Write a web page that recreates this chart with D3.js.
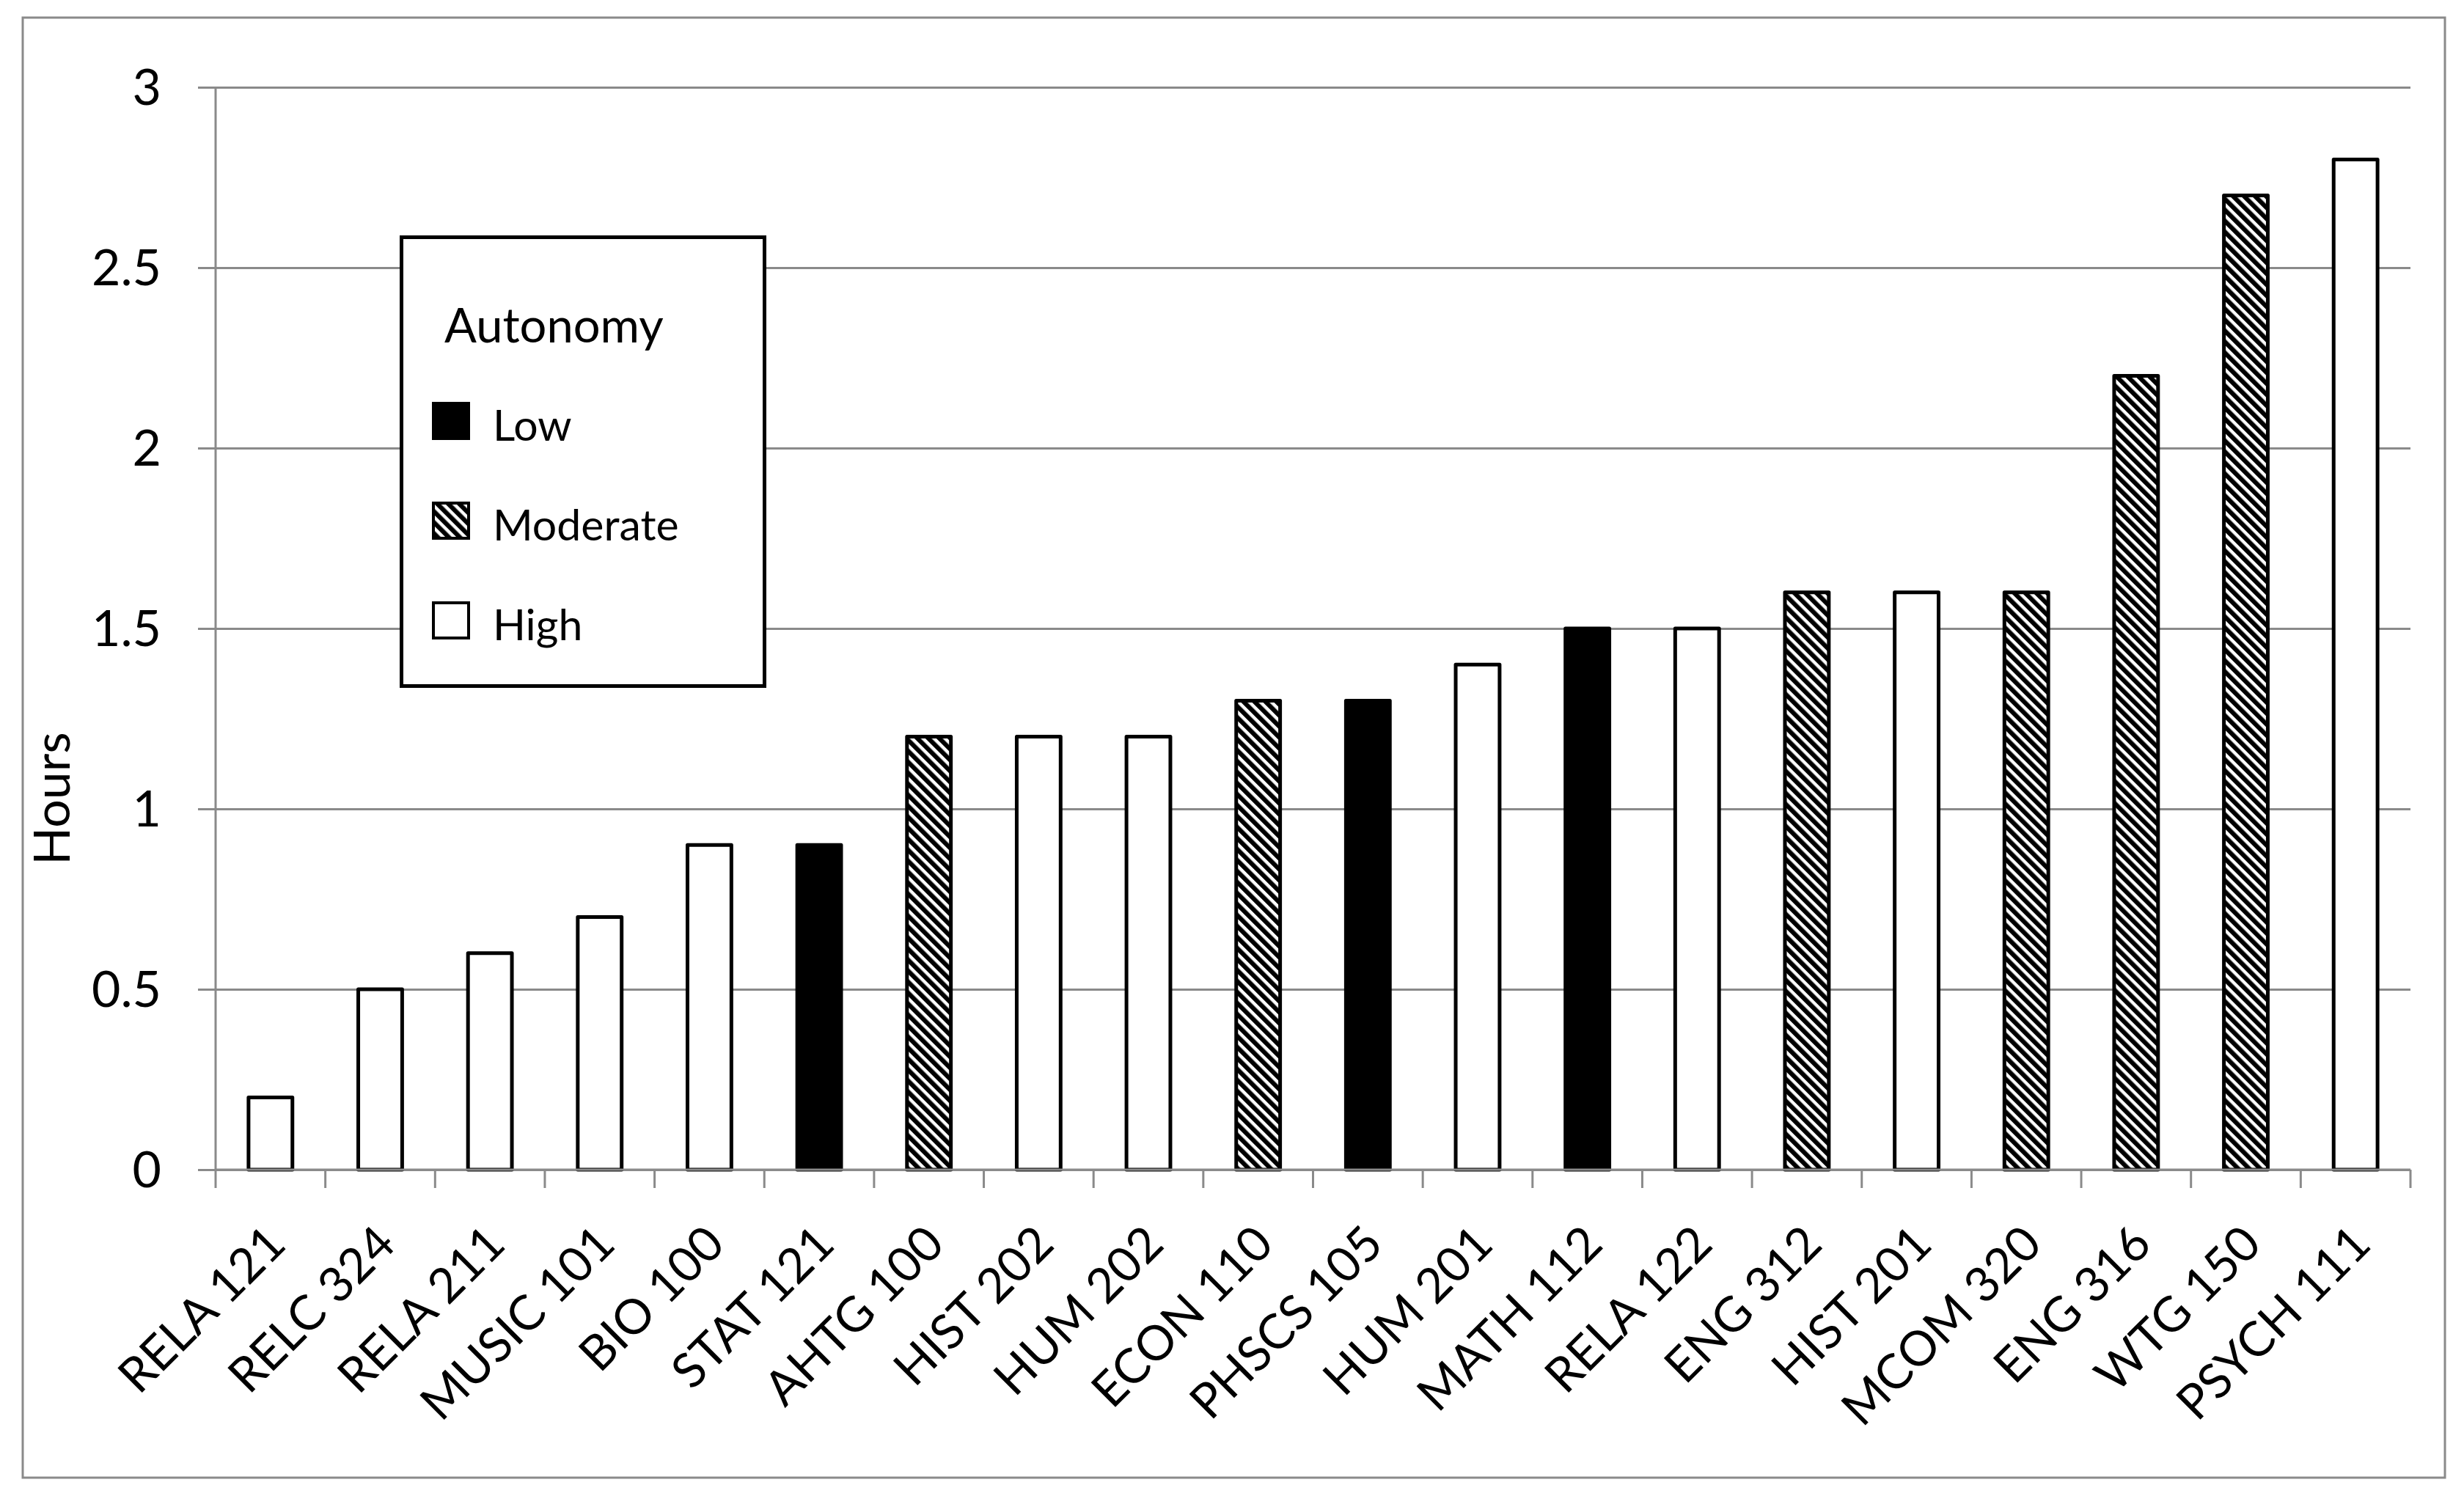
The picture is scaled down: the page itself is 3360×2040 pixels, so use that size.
<!DOCTYPE html>
<html>
<head>
<meta charset="utf-8">
<script src="https://cdnjs.cloudflare.com/ajax/libs/d3/7.8.5/d3.min.js"></script>
<style>
  body { margin: 0; background: #fff; }
  text { font-family: Lato, "Open Sans", sans-serif; fill: #000; }
</style>
</head>
<body>
<div id="main"></div>
<script>
var courses = ["RELA 121", "RELC 324", "RELA 211", "MUSIC 101", "BIO 100", "STAT 121", "AHTG 100",
    "HIST 202", "HUM 202", "ECON 110", "PHSCS 105", "HUM 201", "MATH 112", "RELA 122", "ENG 312",
    "HIST 201", "MCOM 320", "ENG 316", "WTG 150", "PSYCH 111"];
var hours = [0.2, 0.5, 0.6, 0.7, 0.9, 0.9, 1.2, 1.2, 1.2, 1.3, 1.3, 1.4, 1.5, 1.5, 1.6, 1.6, 1.6, 2.2, 2.7, 2.8];
var autonomy = ["High", "High", "High", "High", "High", "Low", "Moderate", "High", "High", "Moderate",
    "Low", "High", "Low", "High", "Moderate", "High", "Moderate", "Moderate", "Moderate", "High"];
var levels = ["Low", "Moderate", "High"];
var yTicks = [0, 0.5, 1, 1.5, 2, 2.5, 3];

var width = 3360,
    height = 2040;
var plotLeft = 294, plotRight = 3287, plotTop = 119, plotBottom = 1595;
var gridColor = "#8a8a8a";

var svg = d3.select("#main").append("svg")
    .attr("width", width)
    .attr("height", height);

// diagonal hatch used for "Moderate"
var defs = svg.append("defs");
var hatch = defs.append("pattern")
    .attr("id", "hatch")
    .attr("patternUnits", "userSpaceOnUse")
    .attr("width", 10.6)
    .attr("height", 10.6)
    .attr("patternTransform", "rotate(-45)");
hatch.append("rect").attr("width", 10.6).attr("height", 10.6).attr("fill", "#fff");
hatch.append("rect").attr("width", 6.2).attr("height", 10.6).attr("fill", "#000");

var fill = d3.scaleOrdinal().domain(levels).range(["#000", "url(#hatch)", "#fff"]);

// outer chart border
svg.append("rect")
    .attr("x", 31).attr("y", 24)
    .attr("width", 3303).attr("height", 1991)
    .attr("fill", "none")
    .attr("stroke", gridColor)
    .attr("stroke-width", 3);

var x = d3.scaleBand().domain(courses).range([plotLeft, plotRight]).paddingInner(0.6).paddingOuter(0.3);
var y = d3.scaleLinear().domain([0, 3]).range([plotBottom, plotTop]);

// gridlines with the outward tick on the left
var yAxis = svg.append("g")
    .attr("transform", "translate(" + plotLeft + ",0)")
    .call(d3.axisLeft(y).tickValues(yTicks).tickSize(-(plotRight - plotLeft)).tickFormat(""));
yAxis.select(".domain").remove();
yAxis.selectAll(".tick line")
    .attr("x1", -24)
    .attr("stroke", gridColor)
    .attr("stroke-width", 3);

svg.append("line")
    .attr("x1", plotLeft).attr("x2", plotLeft)
    .attr("y1", plotTop).attr("y2", plotBottom)
    .attr("stroke", gridColor)
    .attr("stroke-width", 3);

svg.selectAll(".ylab")
    .data(yTicks)
    .enter().append("text")
    .attr("class", "ylab")
    .attr("x", 220)
    .attr("y", function (d) { return y(d) + 24; })
    .attr("text-anchor", "end")
    .style("font-size", "68px")
    .text(function (d) { return d; });

svg.append("text")
    .attr("transform", "translate(95,1089) rotate(-90)")
    .attr("text-anchor", "middle")
    .style("font-size", "68px")
    .text("Hours");

// bars
svg.selectAll(".bar")
    .data(hours)
    .enter().append("rect")
    .attr("class", "bar")
    .attr("x", function (d, i) { return x(courses[i]); })
    .attr("y", function (d) { return y(d); })
    .attr("width", x.bandwidth())
    .attr("height", function (d) { return y(0) - y(d); })
    .attr("fill", function (d, i) { return fill(autonomy[i]); })
    .attr("stroke", "#000")
    .attr("stroke-width", 5)
    .attr("stroke-linejoin", "round");

// category axis: line with ticks between bars
var edges = courses.map(function (c) { return x(c) - x.step() * 0.3; }).concat([plotRight]);
svg.append("line")
    .attr("x1", plotLeft).attr("x2", plotRight)
    .attr("y1", plotBottom).attr("y2", plotBottom)
    .attr("stroke", gridColor)
    .attr("stroke-width", 3);
svg.selectAll(".xtick")
    .data(edges)
    .enter().append("line")
    .attr("class", "xtick")
    .attr("x1", function (d) { return d; })
    .attr("x2", function (d) { return d; })
    .attr("y1", plotBottom)
    .attr("y2", plotBottom + 25)
    .attr("stroke", gridColor)
    .attr("stroke-width", 3);

svg.selectAll(".xlab")
    .data(courses)
    .enter().append("text")
    .attr("class", "xlab")
    .attr("transform", function (d) {
        return "translate(" + (x(d) + x.bandwidth() / 2 + 24) + "," + 1700 + ") rotate(-45)";
    })
    .attr("text-anchor", "end")
    .style("font-size", "66px")
    .text(function (d) { return d; });

// legend
var legend = svg.append("g");
legend.append("rect")
    .attr("x", 547.5).attr("y", 323.5)
    .attr("width", 495).attr("height", 612)
    .attr("fill", "#fff")
    .attr("stroke", "#000")
    .attr("stroke-width", 5);
legend.append("text")
    .attr("x", 606).attr("y", 467)
    .style("font-size", "65px")
    .text("Autonomy");
var item = legend.selectAll(".item")
    .data(levels)
    .enter().append("g")
    .attr("class", "item")
    .attr("transform", function (d, i) { return "translate(589," + (548 + i * 136) + ")"; });
item.append("rect")
    .attr("x", 2).attr("y", 2)
    .attr("width", 48).attr("height", 48)
    .attr("fill", function (d) { return fill(d); })
    .attr("stroke", "#000")
    .attr("stroke-width", 4);
item.append("text")
    .attr("x", 83)
    .attr("y", 53)
    .style("font-size", "59px")
    .text(function (d) { return d; });
</script>
</body>
</html>
